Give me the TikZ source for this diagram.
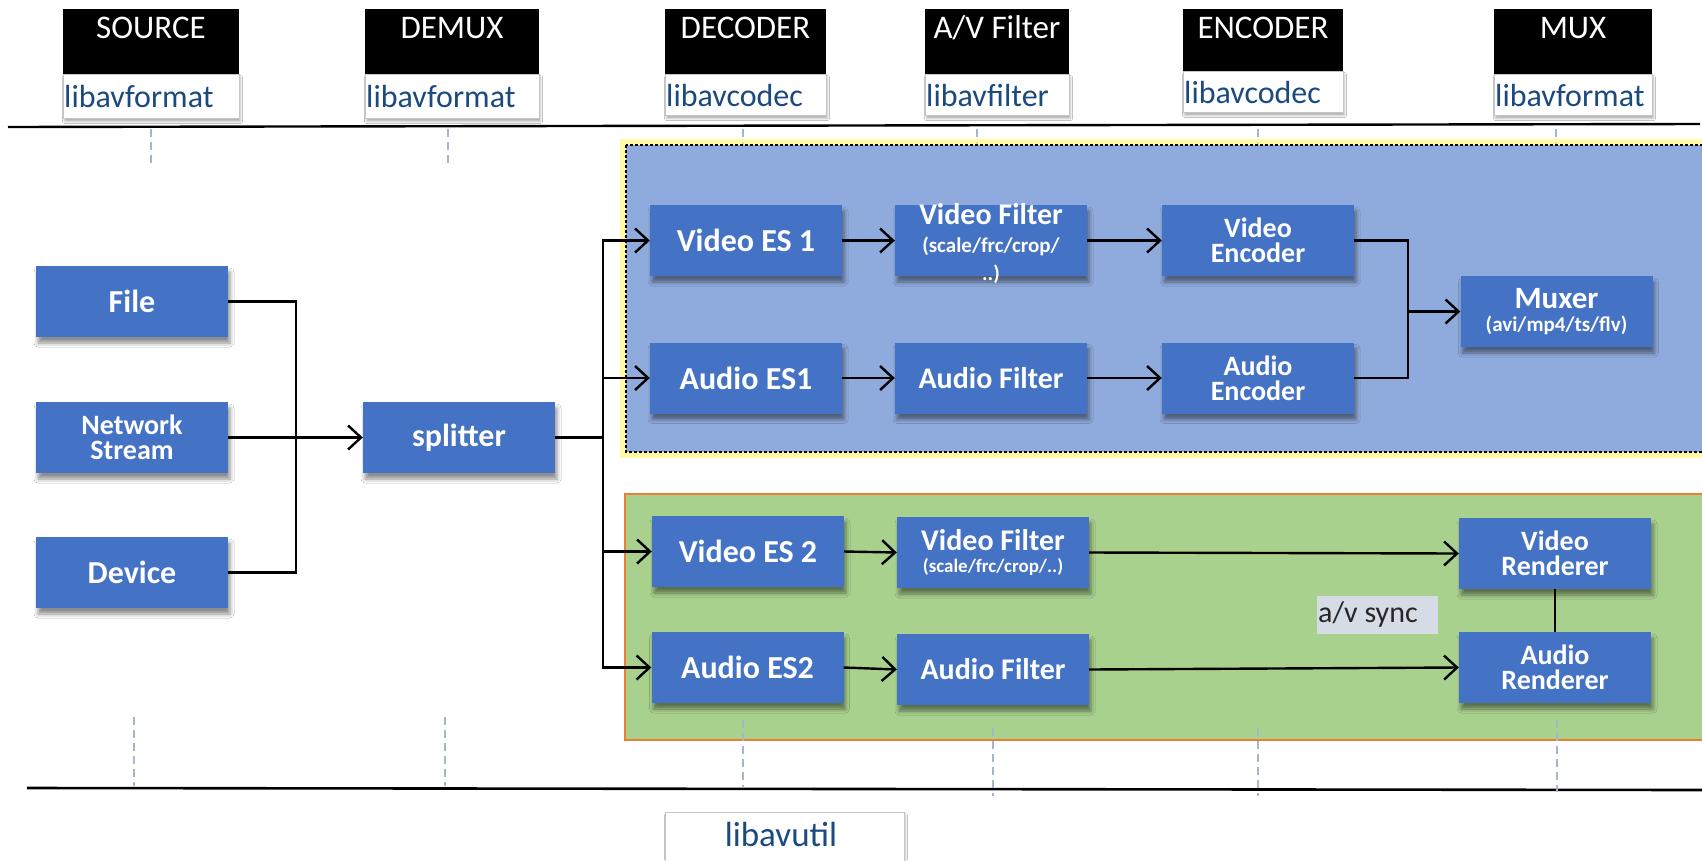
\documentclass[tikz,border=0pt]{standalone}
\usepackage{fontspec}
\setmainfont{Carlito}
\usetikzlibrary{arrows.meta,shadows,shadows.blur,calc}
\definecolor{nodeblue}{HTML}{4472C4}
\definecolor{regionblue}{HTML}{8FAADC}
\definecolor{regiongreen}{HTML}{A9D18E}
\definecolor{regionorange}{HTML}{ED7D31}
\definecolor{libtext}{HTML}{1B4A7E}
\definecolor{guide}{HTML}{A7B5CC}
\definecolor{syncgray}{HTML}{D6DCE5}
\newcommand\fs[1]{\fontsize{#1}{#1}\selectfont}
\newcommand\headerbox[7]{%
  \node[hdrblack, minimum width={#3-#2}, minimum height={#4-9}, anchor=north west] (#1-t) at (#2,9) {};
  \node[hdrtitle] (#1-title) at ({(#2+#3)/2},28) {#6};
  \node[hdrwhite, minimum width={#3-#2}, minimum height={#5-#4}, anchor=north west] (#1-l) at (#2,#4) {};
  \node[hdrlib, anchor=west] (#1-lib) at (#2,{(#4+#5)/2+1}) {#7};
}
\begin{document}
\begin{tikzpicture}[x=1pt,y=-1pt,
  box/.style={fill=nodeblue, text=white, font=\bfseries\fs{32}, minimum width=192pt,
    minimum height=71pt, inner sep=0pt, align=center,
    blur shadow={shadow xshift=2pt, shadow yshift=-6pt, shadow blur radius=4pt, shadow opacity=45}},
  twoline/.style={font=\bfseries\fontsize{28}{25}\selectfont},
  hdrblack/.style={fill=black, inner sep=0pt},
  hdrtitle/.style={text=white, font=\fs{33}, inner sep=0pt},
  hdrwhite/.style={fill=white, draw=gray!45, line width=1pt, inner sep=0pt,
    blur shadow={shadow xshift=1pt, shadow yshift=-3pt, shadow blur radius=2pt, shadow opacity=30}},
  hdrlib/.style={text=libtext, font=\fs{32}, inner sep=1pt},
  wire/.style={line width=2.4pt, black},
  arr/.style={wire, -{Straight Barb[length=13pt, width=24pt, line width=2.4pt]}},
  guideline/.style={guide, line width=1.5pt, dash pattern=on 8pt off 5pt},
]
\useasboundingbox (0,0) rectangle (1702,860);
\clip (0,0) rectangle (1702,860);
\fill[white] (0,0) rectangle (1702,860);

% library headers
\headerbox{src}{63}{239}{74}{118}{SOURCE}{libavformat}
\headerbox{dmx}{365}{539}{74}{118}{DEMUX}{libavformat}
\headerbox{dec}{665}{826}{74}{115}{DECODER}{libavcodec}
\headerbox{flt}{925}{1069}{74}{115}{A/V Filter}{libavfilter}
\headerbox{enc}{1183}{1343}{71}{112}{ENCODER}{libavcodec}
\headerbox{mx}{1494}{1652}{74}{115}{MUX}{libavformat}

% upper and lower rules
\draw[line width=2.4pt] (8,127) -- (1700,124);
\draw[line width=2.6pt] (27,788) -- (1705,790);

% guide ticks under the upper rule
\foreach \gx in {151,448,743,977,1258,1556}
  \draw[guideline] (\gx,129) -- (\gx,163);

% transcode region
\draw[yellow!60, line width=12pt, opacity=0.6] (626,145) rectangle (1720,452);
\fill[regionblue] (626,145) rectangle (1720,452);
\draw[black, line width=1.2pt, dash pattern=on 3pt off 2pt] (626,145) rectangle (1720,452);

% playback region
\fill[regiongreen] (625,494) rectangle (1720,740);
\draw[regionorange, line width=2.5pt] (625,494) rectangle (1720,740);

% guide ticks above the lower rule
\draw[guideline] (134,717) -- (134,786);
\draw[guideline] (445,717) -- (445,786);
\draw[guideline] (743,720) -- (743,788);
\draw[guideline] (993,728) -- (993,796);
\draw[guideline] (1258,728) -- (1258,796);
\draw[guideline] (1557,720) -- (1557,792);

% inputs and splitter
\node[box] (file) at (132,301.5) {File};
\node[box, twoline] (net) at (132,437.5) {Network\\Stream};
\node[box] (dev) at (132,572.5) {Device};
\node[box] (split) at (459,437.5) {splitter};

% transcode chain
\node[box] (ves1) at (746,240.5) {Video ES 1};
\node[box] (vf1) at (991,240.5) {};
\node[text=white, align=center, inner sep=0pt, font=\bfseries\fontsize{30}{28}\selectfont] (vf1text) at (991,244)
  {Video Filter\\\fontsize{21}{26}\selectfont (scale/frc/crop/\\\fontsize{21}{24}\selectfont ..)};
\node[box, twoline] (venc) at (1258,240.5) {Video\\Encoder};
\node[box] (aes1) at (746,378) {Audio ES1};
\node[box, font=\bfseries\fs{30}] (af1) at (991,378) {Audio Filter};
\node[box, twoline] (aenc) at (1258,378) {Audio\\Encoder};
\node[box, font=\bfseries\fontsize{31}{23}\selectfont] (mux) at (1556.5,311.5)
  {Muxer\\\fontsize{21}{21}\selectfont (avi/mp4/ts/flv)};

% playback chain
\node[box] (ves2) at (748,551.5) {Video ES 2};
\node[box, font=\bfseries\fontsize{30}{22}\selectfont] (vf2) at (993,552.5)
  {Video Filter\\\fontsize{19}{19}\selectfont (scale/frc/crop/..)};
\node[box, twoline] (vren) at (1555,553.5) {Video\\Renderer};
\node[box] (aes2) at (747.5,667.5) {Audio ES2};
\node[box, font=\bfseries\fs{30}] (af2) at (993,669.5) {Audio Filter};
\node[box, twoline] (aren) at (1555,667.5) {Audio\\Renderer};
\node[fill=syncgray, minimum width=121pt, minimum height=38pt, inner sep=0pt] (sync) at (1377.5,615) {};
\node[anchor=west, inner sep=0pt, font=\fs{30}, text=black!85] (synctext) at (1318,614) {a/v sync};

% base library
\node[fill=white, draw=gray!45, line width=1pt, minimum width=239pt, minimum height=60pt,
  anchor=north west, inner sep=0pt,
  blur shadow={shadow xshift=1pt, shadow yshift=-3pt, shadow blur radius=2pt, shadow opacity=30}]
  (util) at (665,812) {};
\node[text=libtext, font=\fs{35}, inner sep=0pt] (utiltext) at (781,834) {libavutil};

% input connectors
\coordinate (injoin) at (296,437.5);
\draw[wire] (file.east) -| (injoin);
\draw[wire] (dev.east) -| (injoin);
\draw[arr] (net.east) -- (split.west);

% splitter fan-out
\coordinate (bus) at (603,437.5);
\draw[wire] (split.east) -- (bus);
\draw[arr] (bus) |- (ves1.west);
\draw[arr] (bus) |- (aes1.west);
\draw[arr] (bus) |- (ves2.west);
\draw[arr] (bus) |- (aes2.west);

% transcode connectors
\draw[arr] (ves1.east) -- (vf1.west);
\draw[arr] (vf1.east) -- (venc.west);
\draw[arr] (aes1.east) -- (af1.west);
\draw[arr] (af1.east) -- (aenc.west);
\coordinate (muxjoin) at (1408,311.5);
\draw[wire] (venc.east) -| (muxjoin);
\draw[wire] (aenc.east) -| (muxjoin);
\draw[arr] (muxjoin) -- (mux.west);

% playback connectors
\draw[arr] (ves2.east) -- (vf2.west);
\draw[arr] (vf2.east) -- (vren.west);
\draw[arr] (aes2.east) -- (af2.west);
\draw[arr] (af2.east) -- (aren.west);
\draw[line width=2pt] (vren.south) -- (aren.north);
\end{tikzpicture}
\end{document}
